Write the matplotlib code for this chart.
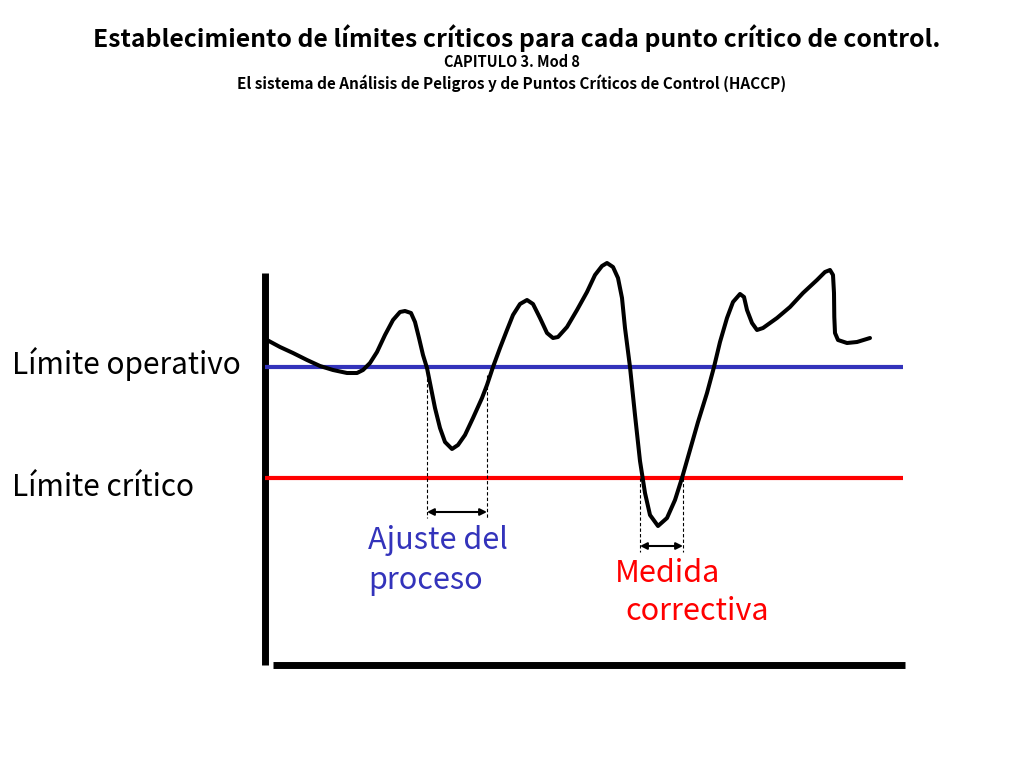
import matplotlib
matplotlib.use("Agg")
import matplotlib.pyplot as plt

plt.rcParams['font.family'] = ['Noto Sans CJK JP', 'DejaVu Sans']

# Process curve (x position, level; screen-like units, y grows downwards)
curve_x = [267, 280, 293, 307, 320, 333, 347, 357, 363, 370, 377, 385, 393, 400, 405, 411,
           415, 419, 423, 427, 431, 435, 440, 445, 452, 458, 465, 473, 482, 487, 493, 500,
           507, 513, 520, 527, 533, 540, 547, 553, 558, 567, 577, 587, 595, 602, 607, 613,
           618, 622, 625, 630, 635, 640, 645, 650, 658, 667, 675, 682, 690, 698, 707, 714,
           720, 727, 733, 740, 744, 747, 752, 757, 763, 777, 790, 803, 817, 825, 830, 833,
           834, 834.3, 835, 838, 847, 857, 870]
curve_y = [340, 347, 353, 360, 366, 370, 373, 373, 370, 363, 352, 335, 320, 312, 311, 313,
           322, 338, 355, 368, 388, 408, 428, 442, 449, 445, 435, 418, 398, 385, 367, 348,
           330, 315, 304, 300, 304, 318, 333, 338, 337, 327, 310, 292, 275, 266, 263, 267,
           278, 298, 328, 367, 415, 461, 493, 515, 526, 518, 500, 478, 450, 422, 393, 367,
           342, 318, 302, 294, 297, 310, 323, 330, 328, 318, 307, 293, 280, 272, 270, 275,
           293, 317, 333, 340, 343, 342, 338]

operating_limit = 367
critical_limit = 478
limit_x = [265, 903]

adjust_window = [427, 487]
corrective_window = [640, 683]

title = "Establecimiento de límites críticos para cada punto crítico de control."
subtitle1 = "CAPITULO 3. Mod 8"
subtitle2 = "El sistema de Análisis de Peligros y de Puntos Críticos de Control (HACCP)"

fig = plt.figure(figsize=(10.24, 7.68), dpi=100)
ax = fig.add_axes([0, 0, 1, 1])
ax.set_xlim(0, 1024)
ax.set_ylim(768, 0)
ax.axis('off')

blue = '#3333bb'
red = '#ff0000'

# axes of the schematic
ax.plot([265, 265], [273, 665], color='black', lw=5, solid_capstyle='butt')
ax.plot([273, 905], [665, 665], color='black', lw=5, solid_capstyle='butt')

# limits
ax.plot(limit_x, [operating_limit] * 2, color=blue, lw=3, solid_capstyle='butt')
ax.plot(limit_x, [critical_limit] * 2, color=red, lw=3, solid_capstyle='butt')

# curve
ax.plot(curve_x, curve_y, color='black', lw=2.9, solid_joinstyle='round', solid_capstyle='round')

# dashed guides
ax.plot([adjust_window[0]] * 2, [operating_limit, 518], color='black', lw=0.8, ls=(0, (3, 2)))
ax.plot([adjust_window[1]] * 2, [375, 518], color='black', lw=0.8, ls=(0, (3, 2)))
ax.plot([corrective_window[0]] * 2, [critical_limit, 552], color='black', lw=0.8, ls=(0, (3, 2)))
ax.plot([corrective_window[1]] * 2, [critical_limit, 552], color='black', lw=0.8, ls=(0, (3, 2)))

# arrows
ax.annotate('', xy=(adjust_window[1], 512), xytext=(adjust_window[0], 512),
            arrowprops=dict(arrowstyle='<|-|>', color='black', lw=1.5, mutation_scale=10,
                            shrinkA=0, shrinkB=0))
ax.annotate('', xy=(corrective_window[1], 546), xytext=(corrective_window[0], 546),
            arrowprops=dict(arrowstyle='<|-|>', color='black', lw=1.5, mutation_scale=10,
                            shrinkA=0, shrinkB=0))

# labels
ax.text(12, 364, "Límite operativo", fontsize=21.5, color='black', ha='left', va='center')
ax.text(12, 487, "Límite crítico", fontsize=21.5, color='black', ha='left', va='center')
ax.text(368, 540, "Ajuste del", fontsize=22, color=blue, ha='left', va='center')
ax.text(368, 580, "proceso", fontsize=22, color=blue, ha='left', va='center')
ax.text(615, 573, "Medida", fontsize=22, color=red, ha='left', va='center')
ax.text(625, 612, "correctiva", fontsize=22, color=red, ha='left', va='center')

# titles
ax.text(517, 38, title, fontsize=17.8, fontweight='bold', ha='center', va='center')
ax.text(512, 62, subtitle1, fontsize=10.5, fontweight='bold', ha='center', va='center')
ax.text(512, 83, subtitle2, fontsize=11, fontweight='bold', ha='center', va='center')

fig.savefig('out.png', dpi=100, facecolor='white')
